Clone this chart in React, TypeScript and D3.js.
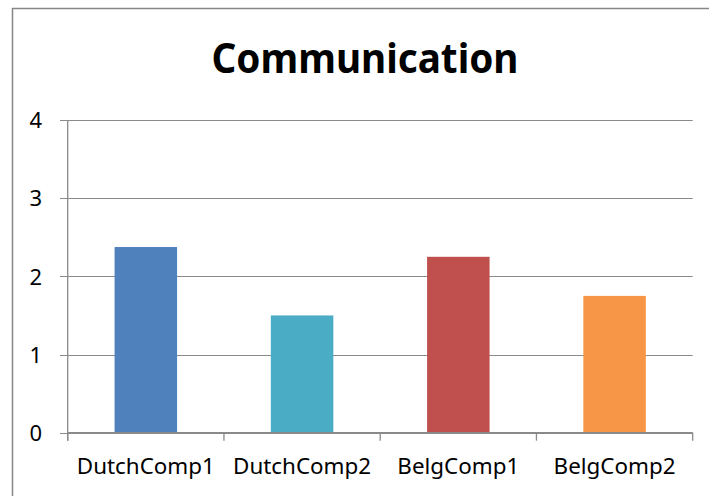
import React from "react";
import * as d3 from "d3";

const categories = ["DutchComp1", "DutchComp2", "BelgComp1", "BelgComp2"];
const values = [2.375, 1.5, 2.25, 1.75];
const colors = ["#4F81BD", "#4BACC6", "#C0504D", "#F79646"];
const yTicks = [0, 1, 2, 3, 4];
const title = "Communication";

const W = 709;
const H = 496;
const plot = { left: 67.7, right: 692.7, top: 120, bottom: 432.7 };
const font = "'Noto Sans', 'Open Sans', sans-serif";
const gridColor = "#8a8a8a";

export default function App() {
  const x = d3
    .scaleBand<string>()
    .domain(categories)
    .range([plot.left, plot.right])
    .paddingInner(0.6)
    .paddingOuter(0.3);
  const band = d3.scaleBand<string>().domain(categories).range([plot.left, plot.right]);
  const y = d3.scaleLinear().domain([0, 4]).range([plot.bottom, plot.top]);

  const catEdges = [plot.left, ...categories.map((c) => (band(c) as number) + band.bandwidth())];

  return (
    <svg
      width={W}
      height={H}
      style={{ position: "absolute", left: 0, top: 0, display: "block", background: "#fff" }}
    >
      <rect x={0} y={0} width={W} height={H} fill="#fff" />
      {/* chart frame */}
      <rect x={12.5} y={8.5} width={720} height={520} fill="none" stroke="#868686" strokeWidth={1.5} />

      <text
        x={365}
        y={72.7}
        textAnchor="middle"
        fontFamily={font}
        fontWeight="bold"
        fontSize={40.5}
        textLength={307}
        lengthAdjust="spacingAndGlyphs"
        fill="#000"
      >
        {title}
      </text>

      {/* horizontal gridlines and y ticks */}
      {yTicks.map((t) => (
        <g key={t}>
          <line
            x1={60}
            x2={plot.right}
            y1={Math.round(y(t)) + 0.5}
            y2={Math.round(y(t)) + 0.5}
            stroke={gridColor}
            strokeWidth={1}
          />
          <text
            x={42}
            y={y(t) + 8.3}
            textAnchor="end"
            fontFamily={font}
            fontSize={22}
            fill="#000"
          >
            {t}
          </text>
        </g>
      ))}

      {/* y axis */}
      <line x1={plot.left} x2={plot.left} y1={plot.top} y2={plot.bottom + 8} stroke={gridColor} strokeWidth={1.3} />

      {/* bars */}
      {categories.map((c, i) => (
        <rect
          key={c}
          x={x(c)}
          y={y(values[i])}
          width={x.bandwidth()}
          height={plot.bottom - y(values[i])}
          fill={colors[i]}
        />
      ))}

      {/* x axis */}
      <line x1={plot.left} x2={plot.right} y1={plot.bottom} y2={plot.bottom} stroke={gridColor} strokeWidth={1.3} />
      {catEdges.map((e, i) => (
        <line key={i} x1={e} x2={e} y1={plot.bottom} y2={plot.bottom + 8} stroke={gridColor} strokeWidth={1.3} />
      ))}

      {categories.map((c) => (
        <text
          key={c}
          x={(band(c) as number) + band.bandwidth() / 2}
          y={474.3}
          textAnchor="middle"
          fontFamily={font}
          fontSize={22.4}
          fill="#000"
        >
          {c}
        </text>
      ))}
    </svg>
  );
}
